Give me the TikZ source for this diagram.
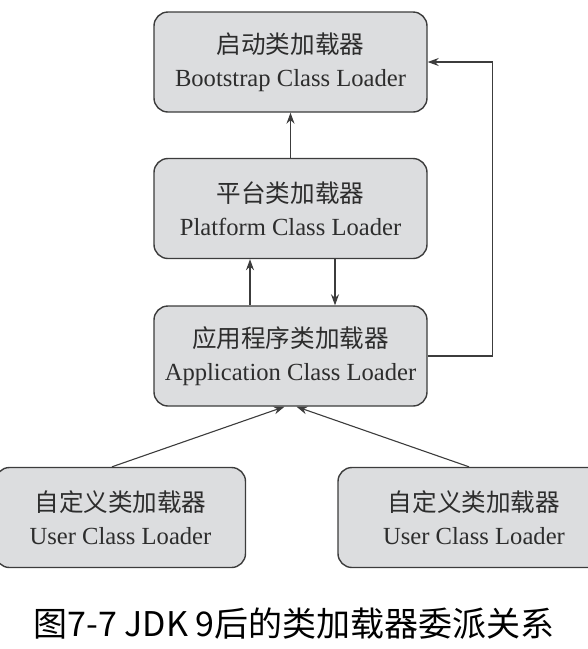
\documentclass[tikz,border=0pt]{standalone}
\usepackage{fontspec}
\setmainfont{Liberation Serif}
\newfontfamily\cjk{Noto Sans CJK SC}
\usetikzlibrary{arrows.meta}
\definecolor{boxfill}{RGB}{220,221,223}
\definecolor{boxline}{RGB}{60,60,60}
\definecolor{txt}{RGB}{45,45,45}
\begin{document}
\begin{tikzpicture}[x=1pt,y=-1pt,
  loader/.style={draw=boxline, line width=1.4pt, fill=boxfill, rounded corners=14pt,
    minimum width=273pt, minimum height=100pt, inner sep=0pt, align=center,
    text=txt, font=\fontsize{24.6}{33}\selectfont},
  arr/.style={draw=boxline, line width=1.1pt, -{Stealth[length=11pt,width=8pt]}}]
\useasboundingbox (0,0) rectangle (588,649);
\node[loader] (boot) at (290.5,62) {{\cjk 启动类加载器}\\Bootstrap Class Loader};
\node[loader] (plat) at (290.5,208.5) {{\cjk 平台类加载器}\\Platform Class Loader};
\node[loader] (app) at (290.5,356) {{\cjk 应用程序类加载器}\\Application Class Loader};
\node[loader, minimum width=250pt] (u1) at (120.5,517.5) {{\cjk 自定义类加载器}\\User Class Loader};
\node[loader, minimum width=272pt] (u2) at (474,517.5) {{\cjk 自定义类加载器}\\User Class Loader};
\draw[arr] (plat) -- (boot);
\draw[arr] ([xshift=-40.5pt]app.north) -- ([xshift=-40.5pt]plat.south);
\draw[arr] ([xshift=44.5pt]plat.south) -- ([xshift=44.5pt]app.north);
\draw[arr] (app.east) -- ++(65,0) |- (boot.east);
\draw[arr] ([xshift=-8.5pt]u1.north) -- ([xshift=-6pt]app.south);
\draw[arr] ([xshift=-5pt]u2.north) -- ([xshift=6pt]app.south);
\node[font=\cjk\fontsize{34}{36}\selectfont, text=black] (cap) at (294,624) {图7-7 JDK 9后的类加载器委派关系};
\end{tikzpicture}
\end{document}
